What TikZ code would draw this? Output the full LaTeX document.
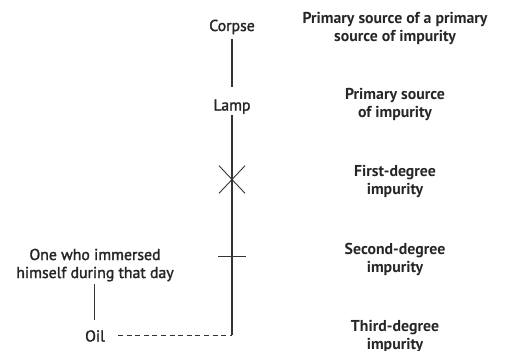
\documentclass[tikz,border=0pt]{standalone}
\usepackage{fontspec}
\setmainfont{PT Sans}
\newfontfamily\lblfont[FakeBold=1.8]{PT Sans}
\usetikzlibrary{calc}
\begin{document}
\begin{tikzpicture}[x=1pt,y=-1pt,
  lbl/.style={font=\lblfont\fontsize{15.8}{18}\selectfont, align=center, inner sep=0pt, anchor=base, text=black!85},
  rlbl/.style={font=\bfseries\fontsize{15.8}{18}\selectfont, align=center, inner sep=0pt, anchor=base, text=black!85},
  ln/.style={line width=1.2pt, black!80},
  mk/.style={line width=0.9pt, black!80}]
\useasboundingbox (0,0) rectangle (510,350);
% left column nodes
\node[lbl] (corpse) at (232,31) {Corpse};
\node[lbl] (lamp) at (232,110.5) {Lamp};
\coordinate (corpseb) at (232,39);
\coordinate (lampt) at (232,87);
\coordinate (lampb) at (232,115);
\coordinate (bottom) at (232,335);
\node[lbl] (oil) at (95,341.5) {Oil};
\node[lbl] (immersed) at (95,278) {One who immersed\\himself during that day};
\coordinate (imb) at (94.3,284);
\coordinate (oilt) at (94.3,320);
\coordinate (dashstart) at (118,335);
% connectors
\draw[ln] (corpseb) -- (lampt);
\draw[ln] (lampb) -- (bottom);
\draw[ln] (imb) -- (oilt);
\draw[mk, dash pattern=on 5pt off 3.6pt] (dashstart) -- (bottom);
% marks
\coordinate (xm) at (232,179.5);
\draw[mk] ($(xm)+(-13,-13.8)$) -- ($(xm)+(13,13.8)$);
\draw[mk] ($(xm)+(-13,13.8)$) -- ($(xm)+(13,-13.8)$);
\coordinate (bar) at (232,256.7);
\draw[mk] ($(bar)+(-14,0)$) -- ($(bar)+(14,0)$);
% right labels
\node[rlbl] (r1) at (395,42) {Primary source of a primary\\source of impurity};
\node[rlbl] (r2) at (395,117.5) {Primary source\\of impurity};
\node[rlbl] (r3) at (395,194.5) {First-degree\\impurity};
\node[rlbl] (r4) at (395,272) {Second-degree\\impurity};
\node[rlbl] (r5) at (395,349.5) {Third-degree\\impurity};
\end{tikzpicture}
\end{document}
